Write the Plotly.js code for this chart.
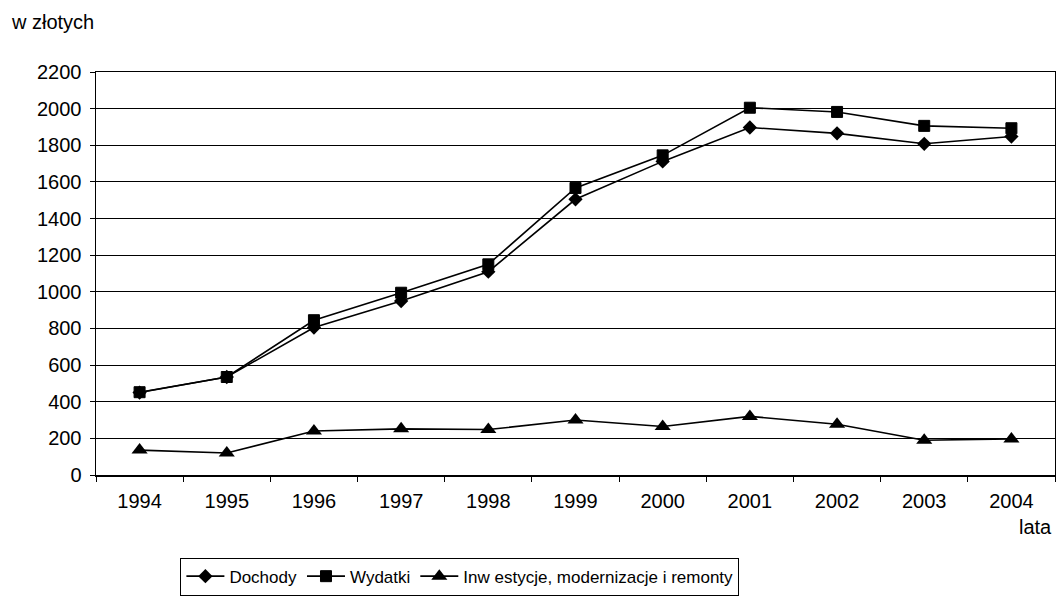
<!DOCTYPE html>
<html>
<head>
<meta charset="utf-8">
<script src="https://cdn.plot.ly/plotly-3.0.1.min.js"></script>
<style>html,body{margin:0;padding:0;background:#fff;}#chart{width:1056px;height:600px;}</style>
</head>
<body>
<div id="chart"></div>
<script>
const years = ["1994","1995","1996","1997","1998","1999","2000","2001","2002","2003","2004"];
const dochody = [450, 535, 805, 950, 1110, 1505, 1712, 1897, 1865, 1808, 1848];
const wydatki = [452, 535, 845, 995, 1150, 1567, 1745, 2005, 1982, 1906, 1893];
const inwestycje = [136, 120, 240, 252, 248, 300, 265, 320, 277, 190, 197];
const names = ["Dochody", "Wydatki", "Inw estycje, modernizacje i remonty"];

const font = {family: "Liberation Sans, Arial, sans-serif", size: 20, color: "#000"};
const legendFont = {family: "Liberation Sans, Arial, sans-serif", size: 17, color: "#000"};

const traces = [
  {x: years, y: dochody, name: names[0], type: "scatter", mode: "lines+markers",
   line: {color: "#000", width: 1.6}, marker: {symbol: "diamond", size: 11, color: "#000"}},
  {x: years, y: wydatki, name: names[1], type: "scatter", mode: "lines+markers",
   line: {color: "#000", width: 1.6}, marker: {symbol: "square", size: 11, color: "#000", line: {color: "#000", width: 1}}},
  {x: years, y: inwestycje, name: names[2], type: "scatter", mode: "lines+markers",
   line: {color: "#000", width: 1.6}, marker: {symbol: "triangle-up", size: 14, color: "#000"}}
];

const layout = {
  width: 1056, height: 600,
  margin: {l: 96, r: 1, t: 72, b: 125},
  paper_bgcolor: "#fff", plot_bgcolor: "#fff",
  font: font,
  showlegend: true,
  legend: {orientation: "h", x: 0.088, xanchor: "left", y: -0.205, yanchor: "top",
           bordercolor: "#000", borderwidth: 1, font: legendFont, itemwidth: 38,
           tracegroupgap: 0},
  xaxis: {type: "category", range: [-0.5, 10.5], tickson: "boundaries",
          ticks: "outside", ticklen: 5, tickcolor: "#000", showgrid: false,
          showline: true, linecolor: "#000", linewidth: 1.5, mirror: true,
          tickfont: font, ticklabelstandoff: 7, zeroline: false},
  yaxis: {range: [0, 2200], dtick: 200, tick0: 0, ticks: "outside", ticklen: 5,
          tickcolor: "#000", showgrid: true, gridcolor: "#000", gridwidth: 1,
          showline: true, linecolor: "#000", linewidth: 1.5, mirror: true,
          zeroline: false, tickfont: font, ticklabelstandoff: 4},
  annotations: [
    {text: "w złotych", xref: "paper", yref: "paper", x: -0.091, y: 1.124,
     xanchor: "left", yanchor: "middle", showarrow: false, font: font},
    {text: "lata", xref: "paper", yref: "paper", x: 0.999, y: -0.13,
     xanchor: "right", yanchor: "middle", showarrow: false, font: font}
  ]
};

Plotly.newPlot("chart", traces, layout, {displayModeBar: false, staticPlot: true});
</script>
</body>
</html>
